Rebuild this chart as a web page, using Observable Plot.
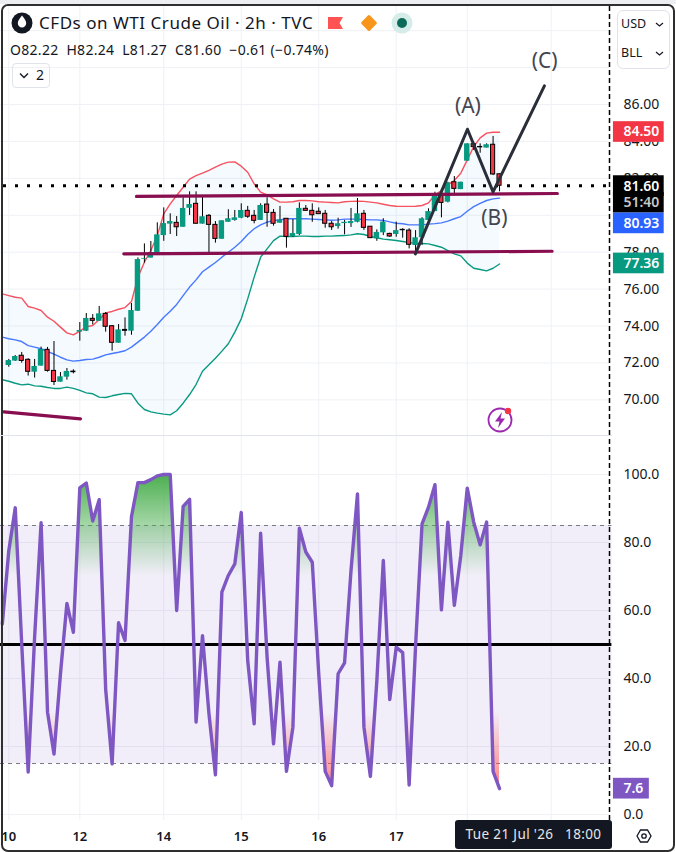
<!DOCTYPE html>
<html><head><meta charset="utf-8">
<script src="https://cdn.jsdelivr.net/npm/d3@7"></script>
<script src="https://cdn.jsdelivr.net/npm/@observablehq/plot@0.6"></script>
<style>
html,body{margin:0;padding:0;background:#eceef1}
#wrap{position:relative;width:676px;height:852px;overflow:hidden;font-family:"Noto Sans",sans-serif;color:#131722}
#wrap svg.plot{display:block}
#panel{position:absolute;left:0;top:4px;width:676px;height:848px;background:#fff}
#plots{position:absolute;left:0;top:0}
.abs{position:absolute;white-space:pre}
#frame{position:absolute;left:1px;top:4px;width:670px;height:844px;border:2px solid #2e2e2e;border-radius:7px;pointer-events:none}
</style></head>
<body><div id="wrap">
<div id="panel"></div>
<div id="plots"></div>
<div id="frame"></div>
<svg class="abs" style="left:0;top:0" width="676" height="852" xmlns="http://www.w3.org/2000/svg">
  <circle cx="22" cy="23" r="10.5" fill="#131722"/>
  <path d="M22 15.5c2.6 3.4 4.2 5.6 4.2 7.7a4.2 4.2 0 0 1-8.4 0c0-2.1 1.6-4.3 4.2-7.7z" fill="#fff"/>
  <path d="M328 17h15l-3.5 6 3.5 6h-15z" fill="#ff5252"/>
  <rect x="363" y="17" width="12" height="12" rx="1.5" transform="rotate(45 369 23)" fill="#f7961a"/>
  <circle cx="402" cy="23" r="10.5" fill="#d6ece8"/><circle cx="402" cy="23" r="5" fill="#0b6b58"/>
  <path d="M20 73.500l4 4 4-4" fill="none" stroke="#131722" stroke-width="1.3"/>
  <circle cx="500" cy="420" r="11.5" fill="none" stroke="#9c27b0" stroke-width="1.8"/>
  <path d="M502 412l-7 9.5h4.5l-1.5 6.500 7-9.5h-4.5z" fill="#9c27b0"/>
  <circle cx="508" cy="411" r="3.2" fill="#f23645"/>
  <path d="M637 836l3.5-6h7l3.500 6-3.500 6h-7z" fill="none" stroke="#131722" stroke-width="1.3"/>
  <circle cx="644" cy="836" r="2.2" fill="none" stroke="#131722" stroke-width="1.3"/>
</svg>
<div class="abs" style="left:39px;top:11px;font-size:17px;line-height:24px;letter-spacing:0.53px">CFDs on WTI Crude Oil · 2h · TVC</div>
<div class="abs" style="left:10px;top:40px;font-size:14px;line-height:20px;letter-spacing:0.3px">O82.22  H82.24  L81.27  C81.60  −0.61 (−0.74%)</div>
<div class="abs" style="left:12px;top:63px;width:36px;height:23px;border:1px solid #e0e3eb;border-radius:4px"></div>
<div class="abs" style="left:36px;top:65px;font-size:14px;line-height:20px">2</div>
<div class="abs" style="left:617px;top:10px;width:51px;height:57px;border:1px solid #e0e3eb;border-radius:6px;background:#fff"></div>
<div class="abs" style="left:621px;top:14px;font-size:12.500px;line-height:20px">USD</div>
<div class="abs" style="left:621px;top:43px;font-size:12.500px;line-height:20px">BLL</div>
<svg class="abs" style="left:655px;top:20px" width="10" height="36"><path d="M1 3l3.500 3 3.500-3M1 32l3.500 3 3.500-3" fill="none" stroke="#131722" stroke-width="1.2"/></svg>
<div class="abs" style="left:455px;top:820px;width:157px;height:29px;background:#131722;border-radius:3px;color:#e6e6e6;font-size:13.500px;line-height:29px;text-align:center;letter-spacing:0.37px">Tue 21 Jul '26   18:00</div>
<div class="abs" style="left:0;top:435px;width:612px;height:1px;background:#e0e3eb"></div>
</div>
<script>
const opens = [71.86,72.10,72.39,72.17,71.50,71.83,72.71,71.57,70.96,71.23,71.53,73.67,73.72,74.39,74.26,74.66,73.99,73.07,73.79,73.72,74.80,77.62,77.68,77.95,78.90,79.52,79.59,79.35,80.38,80.62,79.52,79.97,79.48,78.70,79.62,79.72,79.84,80.24,79.97,79.72,80.58,80.13,79.57,79.81,78.85,78.96,80.35,80.24,80.19,80.08,79.54,79.39,79.55,79.55,79.62,80.08,79.38,78.72,79.05,78.99,78.96,79.21,79.17,78.36,78.78,79.72,80.20,81.16,80.71,81.79,81.39,82.93,83.85,83.70,83.64,83.82,82.22];
const highs = [72.19,72.40,72.57,72.23,72.19,72.86,72.84,73.16,71.48,71.70,71.63,74.19,74.68,74.62,75.06,74.73,74.03,74.08,74.44,75.22,77.69,78.45,78.58,79.59,80.40,80.08,79.93,80.95,81.27,81.27,80.98,80.04,79.66,79.70,80.30,80.26,80.62,80.48,80.26,80.62,80.95,80.31,80.48,79.81,79.77,80.67,80.53,80.62,80.40,80.26,79.66,79.84,79.72,80.37,80.91,80.26,79.38,79.21,79.81,79.03,79.63,79.27,79.27,79.17,79.87,80.35,81.25,81.43,81.79,82.10,81.79,83.87,83.96,83.87,83.87,84.27,82.24];
const lows = [71.77,72.08,71.99,71.29,71.18,71.83,71.50,70.78,70.96,71.07,71.41,73.18,73.70,74.06,74.25,73.67,72.64,73.07,73.45,73.50,74.79,77.41,77.68,77.93,78.59,78.96,78.85,79.35,79.99,79.54,79.52,77.91,78.49,78.70,79.62,79.68,79.81,79.83,79.54,79.72,79.35,79.41,79.57,78.22,78.81,78.90,80.22,79.62,80.06,79.30,79.18,79.25,78.94,79.34,79.59,79.18,78.76,78.59,78.90,78.80,78.81,78.76,78.18,77.91,78.36,79.72,80.20,79.86,80.67,81.16,81.39,82.93,83.51,83.36,83.64,82.15,81.27];
const closes = [72.13,72.35,72.11,71.52,71.81,72.73,71.57,70.97,71.25,71.54,71.50,73.76,74.41,74.28,74.66,73.96,73.09,73.79,73.74,74.84,77.60,77.66,77.98,78.94,79.55,79.66,79.35,80.37,80.58,79.54,79.92,79.48,78.72,79.70,79.81,79.86,80.26,79.92,79.70,80.53,80.13,79.54,79.75,78.83,79.01,80.37,80.24,80.00,80.06,79.54,79.35,79.54,79.62,79.66,80.08,79.32,78.76,79.07,79.63,78.85,79.17,79.19,78.40,78.78,79.81,80.20,81.16,80.67,81.76,81.43,81.79,83.87,83.69,83.68,83.82,82.21,81.60];

const upperBand = [75.74,75.65,75.56,75.51,75.06,74.97,74.84,74.48,74.26,73.94,73.63,73.52,73.72,73.96,74.03,74.35,74.71,74.79,74.91,75.00,75.33,76.65,77.46,78.09,78.90,80.08,80.62,81.07,81.52,81.96,82.15,82.28,82.43,82.61,82.77,82.88,82.89,82.66,82.33,81.70,81.25,81.11,80.89,80.71,80.71,80.73,80.80,80.80,80.78,80.73,80.71,80.69,80.67,80.73,80.75,80.76,80.75,80.71,80.67,80.60,80.53,80.49,80.48,80.48,80.49,80.53,80.67,81.11,81.34,81.65,81.88,82.28,83.00,83.72,84.19,84.45,84.50,84.50];
const basisBand = [73.40,73.31,73.25,73.16,72.94,72.86,72.77,72.62,72.48,72.31,72.17,72.10,72.13,72.19,72.21,72.31,72.44,72.51,72.58,72.66,72.86,73.13,73.40,73.72,74.08,74.48,74.80,75.17,75.65,76.11,76.50,76.94,77.19,77.44,77.73,78.00,78.27,78.58,78.96,79.27,79.48,79.63,79.72,79.75,79.81,79.81,79.81,79.81,79.79,79.77,79.75,79.73,79.75,79.79,79.79,79.79,79.77,79.75,79.75,79.72,79.64,79.57,79.54,79.48,79.48,79.48,79.52,79.55,79.59,79.68,79.81,79.93,80.22,80.47,80.65,80.80,80.89,80.93];
const lowerBand = [71.09,71.01,70.90,70.81,70.85,70.76,70.74,70.67,70.62,70.62,70.69,70.62,70.51,70.38,70.33,70.15,70.13,70.22,70.29,70.35,70.33,69.82,69.48,69.35,69.28,69.23,69.19,69.41,69.82,70.29,70.83,71.55,71.90,72.26,72.64,73.04,73.67,74.39,75.47,76.65,77.73,78.18,78.63,78.87,78.85,78.85,78.87,78.87,78.85,78.85,78.87,78.87,78.89,78.90,78.94,79.00,78.96,78.85,78.78,78.71,78.67,78.63,78.58,78.52,78.49,78.47,78.45,78.36,78.27,78.09,77.91,77.80,77.41,77.13,77.06,76.99,77.13,77.36];

const rsi = [56.1,77.6,90.2,50.2,12.5,52.2,85.8,30.1,17.8,41.4,62.1,53.6,96.1,97.5,86.3,92.6,36.9,14.9,56.4,51.2,87.6,97.6,97.6,98.5,99.6,100,100,60.0,90.6,92.7,27.2,52.6,29.6,11.7,65.4,70.3,73.7,88.8,45.3,26.7,82.7,46.3,20.8,44.8,12.7,25.7,84.2,77.2,74.2,41.4,12.7,8.5,41.4,44.6,71.8,94.3,25.7,11.2,39.4,74.7,33.8,49.2,47.6,8.7,49.7,85.5,90.4,97.0,60.2,86.0,61.5,76.2,96.0,86.0,79.3,86.0,12.7,7.6];

const priceTicks = [70,72,74,76,78,82,84,86];
const priceGrid = [70,72,74,76,78,80,82,84,86,88,90];
const rsiTicks = [0,20,40,60,80,100];
const dayBars = [0,11,24,36,48,60,71,84];
const dayNames = ["10","12","14","15","16","17","",""];

const supportA = [{i:19.77,p:81.02},{i:84.96,p:81.18}];
const supportB = [{i:17.81,p:77.91},{i:84.14,p:78.05}];
const supportC = [{i:-0.77,p:69.35},{i:11.10,p:68.97}];
const waves = [{i:62.97,p:77.91},{i:71.03,p:84.66},{i:75.00,p:81.27},{i:82.95,p:87.01}];
const waveNames = [{t:"(A)",i:71.1,p:85.9},{t:"(B)",i:75.2,p:79.82},{t:"(C)",i:83,p:88.35}];

const tagNames = ["84.50","81.60","51:40","80.93","77.36"];
const tagPrices = [84.51,81.58,80.68,79.56,77.39];
const tagFills = ["#f23645","#000000","#000000","#2962ff","#089981"];
const tagInks = ["#fff","#fff","#c8c8c8","#fff","#fff"];

const lastPrice = 81.60;
const overbought = 85, oversold = 15, midline = 50;

const bars = opens.map((o,k)=>({i:k,o,h:highs[k],l:lows[k],c:closes[k],up:closes[k]>=o}));
const band = upperBand.map((u,k)=>({i:k-1,u,b:basisBand[k],l:lowerBand[k]}));
const osc = rsi.map((v,k)=>({i:k-1,v}));
const days = dayBars.map((i,k)=>({i,n:dayNames[k]}));
const tags = tagNames.map((t,k)=>({t,p:tagPrices[k],fill:tagFills[k],ink:tagInks[k]}));

const font = '"Noto Sans",sans-serif';
const xDomain = [-1.285,93.03];
const edge = 93.03, tagL = 93.64, tagR = 101.5, tagText = 95.18;
const gridC = "#eff1f5", ink = "#131722";

const pricePane = Plot.plot({
  width:676,height:435,marginLeft:0,marginRight:67,marginTop:0,marginBottom:0,
  style:{fontFamily:font,background:"transparent",overflow:"visible"},
  x:{domain:xDomain,axis:null},
  y:{domain:[68.07,91.634]},
  marks:[
    Plot.ruleY(priceGrid,{stroke:gridC,strokeWidth:1}),
    Plot.ruleX(dayBars,{stroke:gridC,strokeWidth:1}),
    Plot.axisY({anchor:"right",ticks:priceTicks,tickSize:0,tickPadding:14,tickFormat:d=>d.toFixed(2),fontSize:14,fill:ink,label:null}),
    Plot.areaY(band,{x:"i",y1:"u",y2:"l",fill:"#2196f3",fillOpacity:0.05}),
    Plot.line(band,{x:"i",y:"u",stroke:"#f7525f",strokeWidth:1.4}),
    Plot.line(band,{x:"i",y:"b",stroke:"#2962ff",strokeWidth:1.4,strokeOpacity:0.85}),
    Plot.line(band,{x:"i",y:"l",stroke:"#089981",strokeWidth:1.4}),
    Plot.ruleY([lastPrice],{x1:-0.82,x2:edge,stroke:"#000",strokeWidth:3,strokeDasharray:"3 9"}),
    Plot.ruleX(bars,{x:"i",y1:"l",y2:"h",stroke:"#000",strokeWidth:1}),
    Plot.rect(bars.filter(d=>d.up),{x1:d=>d.i-0.42,x2:d=>d.i+0.42,y1:"o",y2:"c",fill:"#089981"}),
    Plot.rect(bars.filter(d=>!d.up),{x1:d=>d.i-0.32,x2:d=>d.i+0.32,y1:"o",y2:"c",fill:"#f23645",stroke:"#000",strokeWidth:1}),
    Plot.line(supportA,{x:"i",y:"p",stroke:"#880e4f",strokeWidth:3.2}),
    Plot.line(supportB,{x:"i",y:"p",stroke:"#880e4f",strokeWidth:3.2}),
    Plot.line(supportC,{x:"i",y:"p",stroke:"#880e4f",strokeWidth:3.2}),
    Plot.line(waves,{x:"i",y:"p",stroke:"#2a2e39",strokeWidth:3}),
    Plot.text(waveNames,{x:"i",y:"p",text:"t",fontSize:21,fill:"#434651"}),
    Plot.ruleX([edge],{stroke:"#000",strokeWidth:1.5,strokeDasharray:"5 3",y1:68.07,y2:91.4}),
    Plot.rect(tags,{x1:tagL,x2:tagR,y1:d=>d.p-0.56,y2:d=>d.p+0.56,fill:"fill"}),
    Plot.text(tags,{x:tagText,y:"p",text:"t",fill:"ink",fontSize:14,fontWeight:600,textAnchor:"start"})
  ]
});

const gradients = (index,{y})=>{
  const g=document.createElementNS("http://www.w3.org/2000/svg","g");
  g.innerHTML=`<defs>
  <linearGradient id="gOver" gradientUnits="userSpaceOnUse" x1="0" x2="0" y1="${y(100)}" y2="${y(70)}"><stop offset="0" stop-color="#4caf50"/><stop offset="1" stop-color="#4caf50" stop-opacity="0"/></linearGradient>
  <linearGradient id="gUnder" gradientUnits="userSpaceOnUse" x1="0" x2="0" y1="${y(30)}" y2="${y(0)}"><stop offset="0" stop-color="#ff5252" stop-opacity="0"/><stop offset="1" stop-color="#ff5252"/></linearGradient>
  </defs>`;
  return g;
};

const oscPane = Plot.plot({
  width:676,height:417,marginLeft:0,marginRight:67,marginTop:0,marginBottom:32,
  style:{fontFamily:font,background:"transparent",overflow:"visible"},
  x:{domain:xDomain},
  y:{domain:[-1.76,111.47]},
  marks:[
    gradients,
    Plot.ruleY(rsiTicks,{stroke:gridC,strokeWidth:1}),
    Plot.ruleX(dayBars,{stroke:gridC,strokeWidth:1}),
    Plot.axisY({anchor:"right",ticks:rsiTicks,tickSize:0,tickPadding:14,tickFormat:d=>d.toFixed(1),fontSize:14,fill:ink,label:null}),
    Plot.axisX({anchor:"bottom",ticks:dayBars.slice(0,6),tickSize:0,tickPadding:11,tickFormat:d=>days.find(e=>e.i===d).n,fontSize:13,fontWeight:600,fill:ink,label:null}),
    Plot.rect([{a:overbought,b:oversold}],{x1:-1.285,x2:93.4,y1:"a",y2:"b",fill:"#7e57c2",fillOpacity:0.1}),
    Plot.ruleY([overbought,oversold],{x1:-1.285,x2:93.4,stroke:"#787b86",strokeWidth:1,strokeDasharray:"4 4"}),
    Plot.areaY(osc,{x:"i",y1:()=>70,y2:"v",fill:"url(#gOver)"}),
    Plot.areaY(osc,{x:"i",y1:()=>30,y2:"v",fill:"url(#gUnder)"}),
    Plot.ruleY([midline],{x1:-1.285,x2:93.4,stroke:"#000",strokeWidth:2.8}),
    Plot.line(osc,{x:"i",y:"v",stroke:"#7e57c2",strokeWidth:3.4}),
    Plot.ruleX([edge],{stroke:"#000",strokeWidth:1.5,strokeDasharray:"5 3",y1:-1.76,y2:111.47}),
    Plot.rect([{v:rsi[rsi.length-1]}],{x1:tagL,x2:99.2,y1:d=>d.v-3.05,y2:d=>d.v+3.05,fill:"#7e57c2"}),
    Plot.text([{v:rsi[rsi.length-1]}],{x:tagText,y:"v",text:d=>d.v.toFixed(1),fill:"#fff",fontSize:14,fontWeight:600,textAnchor:"start"})
  ]
});
document.getElementById("plots").append(pricePane,oscPane);
</script>
</body></html>
